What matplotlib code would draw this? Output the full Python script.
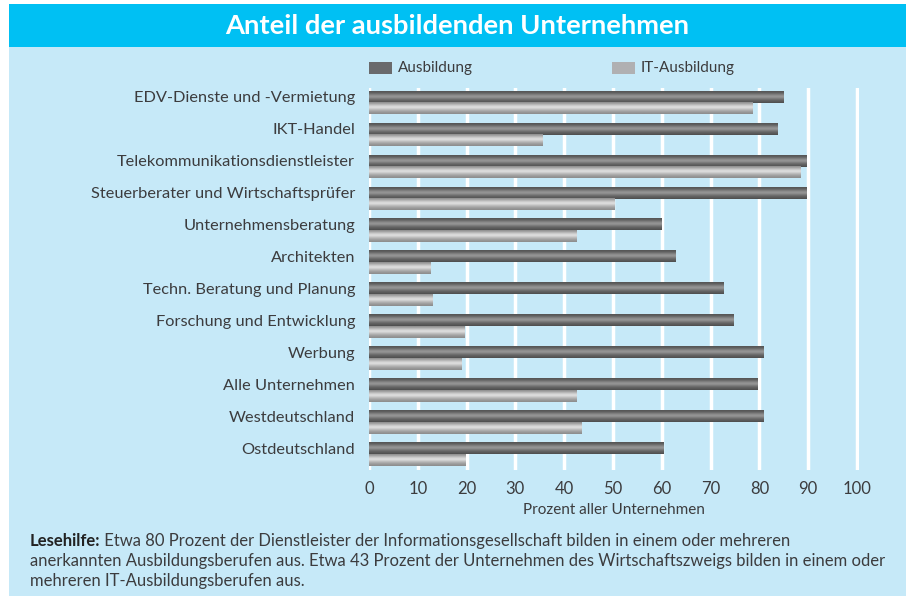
import matplotlib
matplotlib.use('Agg')
import matplotlib.pyplot as plt
import numpy as np
from matplotlib.patches import Rectangle

categories = ['EDV-Dienste und -Vermietung', 'IKT-Handel', 'Telekommunikationsdienstleister',
              'Steuerberater und Wirtschaftsprüfer', 'Unternehmensberatung', 'Architekten',
              'Techn. Beratung und Planung', 'Forschung und Entwicklung', 'Werbung',
              'Alle Unternehmen', 'Westdeutschland', 'Ostdeutschland']
ausbildung = [85.0, 83.8, 89.7, 89.7, 59.9, 62.9, 72.7, 74.7, 80.9, 79.7, 80.9, 60.3]
it_ausbildung = [78.6, 35.6, 88.4, 50.4, 42.5, 12.6, 13.0, 19.5, 18.9, 42.5, 43.5, 19.7]
ticks = [0, 10, 20, 30, 40, 50, 60, 70, 80, 90, 100]

title = 'Anteil der ausbildenden Unternehmen'
xlabel = 'Prozent aller Unternehmen'
note_bold = 'Lesehilfe:'
note_lines = [' Etwa 80 Prozent der Dienstleister der Informationsgesellschaft bilden in einem oder mehreren',
              'anerkannten Ausbildungsberufen aus. Etwa 43 Prozent der Unternehmen des Wirtschaftszweigs bilden in einem oder',
              'mehreren IT-Ausbildungsberufen aus.']

plt.rcParams['font.family'] = ['Lato', 'DejaVu Sans']

W, H = 908, 596
bg = '#c6e9f8'
cyan = '#00c0f3'
txt = '#3c3c3e'

fig = plt.figure(figsize=(W / 100, H / 100), dpi=100)
fig.patch.set_facecolor('white')

def fx(px):
    return px / W

def fy(py):
    return 1 - py / H

# panel + title bar
fig.add_artist(Rectangle((fx(9), 0), fx(906) - fx(9), fy(47), transform=fig.transFigure,
                         facecolor=bg, edgecolor='none', zorder=0))
fig.add_artist(Rectangle((fx(9), fy(47)), fx(906) - fx(9), fy(4) - fy(47), transform=fig.transFigure,
                         facecolor=cyan, edgecolor='none', zorder=0))
fig.text(fx(457), fy(26), title, color='white', fontsize=19.7, fontweight='bold',
         ha='center', va='center')

# axes
left, right = 369, 857 + 4.88 * 0.5
ax = fig.add_axes([fx(left), fy(470), fx(right) - fx(left), fy(88) - fy(470)])
ax.set_facecolor('none')

y = np.arange(len(categories))
h = 0.365
dark_grad = np.array([0.34, 0.38, 0.46, 0.54, 0.58, 0.55, 0.47, 0.40, 0.36, 0.32])
light_grad = np.array([0.58, 0.66, 0.76, 0.84, 0.86, 0.80, 0.72, 0.65, 0.60, 0.56])

bars_a = ax.barh(y - h / 2, ausbildung, height=h, color='#6e6e70', zorder=3)
bars_b = ax.barh(y + h / 2, it_ausbildung, height=h, color='#b8b8ba', zorder=3)

for bars, grad in [(bars_a, dark_grad), (bars_b, light_grad)]:
    for p in bars:
        x0, y0, w, hh = p.get_x(), p.get_y(), p.get_width(), p.get_height()
        ax.imshow(grad.reshape(-1, 1), cmap='gray', vmin=0, vmax=1, aspect='auto',
                  extent=(x0, x0 + w, y0 + hh, y0), zorder=4, interpolation='bilinear')

ax.set_ylim(len(categories) - 0.5, -0.46)
ax.set_xlim(0, 100.5)

for t in ticks:
    ax.axvline(t, color='white', lw=2.5, zorder=1)

ax.set_yticks(y - h / 2)
ax.set_yticklabels(categories, fontsize=11.8, color=txt)
ax.set_xticks(ticks)
ax.set_xticklabels([str(t) for t in ticks], fontsize=12, color=txt)
ax.tick_params(length=0, axis='y', pad=10)
ax.tick_params(length=0, axis='x', pad=8)
for s in ax.spines.values():
    s.set_visible(False)
ax.set_xlabel(xlabel, fontsize=11, color=txt, labelpad=4)

# legend
fig.add_artist(Rectangle((fx(369), fy(74)), fx(23), fy(62) - fy(74), transform=fig.transFigure,
                         facecolor='#6a6a6c', edgecolor='none'))
fig.text(fx(398), fy(68), 'Ausbildung', fontsize=11, color=txt, va='center')
fig.add_artist(Rectangle((fx(612), fy(74)), fx(23), fy(62) - fy(74), transform=fig.transFigure,
                         facecolor='#b0b0b2', edgecolor='none'))
fig.text(fx(641), fy(68), 'IT-Ausbildung', fontsize=11, color=txt, va='center')

# note
t0 = fig.text(fx(30), fy(541), note_bold, fontsize=12, fontweight='bold', color='#222222', va='center')
fig.canvas.draw()
bb = t0.get_window_extent()
fig.text(bb.x1 / W, fy(541), note_lines[0], fontsize=12, color=txt, va='center')
fig.text(fx(30), fy(561), note_lines[1], fontsize=12, color=txt, va='center')
fig.text(fx(30), fy(581), note_lines[2], fontsize=12, color=txt, va='center')

fig.savefig('out.png', dpi=100, facecolor=fig.get_facecolor())
